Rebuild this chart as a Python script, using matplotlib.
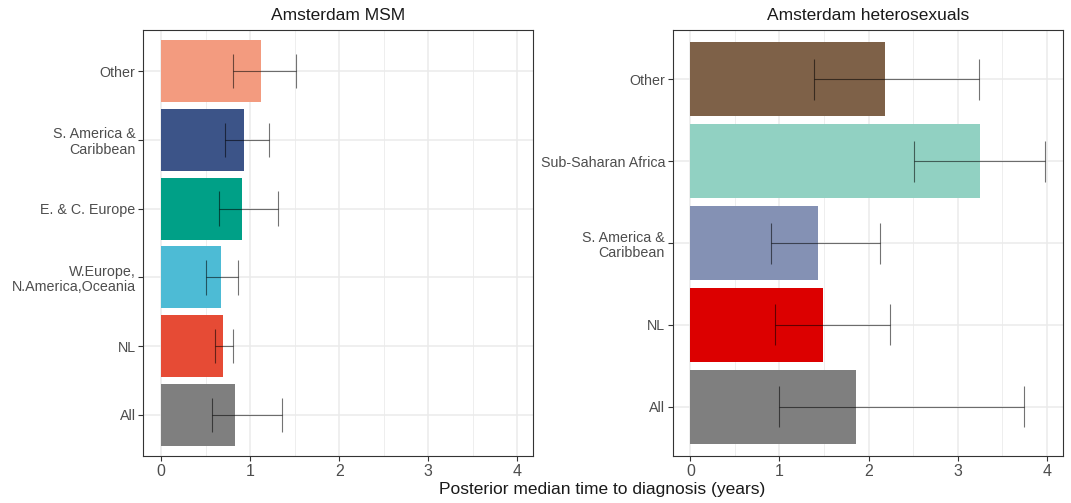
import numpy as np
import matplotlib
matplotlib.use("Agg")
import matplotlib.pyplot as plt
from matplotlib.ticker import MultipleLocator

plt.rcParams["font.family"] = ["Liberation Sans", "DejaVu Sans"]

# --- Amsterdam MSM (de abajo hacia arriba) ---
msm_grupos = ["All", "NL", "W.Europe,\nN.America,Oceania", "E. & C. Europe",
              "S. America &\nCaribbean", "Other"]
msm_mediana = [0.83, 0.70, 0.67, 0.91, 0.93, 1.12]
msm_inf = [0.57, 0.61, 0.51, 0.655, 0.72, 0.805]
msm_sup = [1.36, 0.81, 0.86, 1.31, 1.21, 1.52]
msm_colores = ["#7F7F7F", "#E64B35", "#4DBBD5", "#00A087", "#3C5488", "#F39B7F"]

# --- Amsterdam heterosexuales ---
het_grupos = ["All", "NL", "S. America &\nCaribbean", "Sub-Saharan Africa", "Other"]
het_mediana = [1.86, 1.485, 1.43, 3.25, 2.19]
het_inf = [1.00, 0.95, 0.91, 2.515, 1.39]
het_sup = [3.74, 2.245, 2.13, 3.98, 3.24]
het_colores = ["#7F7F7F", "#DC0000", "#8491B4", "#91D1C2", "#7E6148"]

paneles = [
    ("Amsterdam MSM", msm_grupos, msm_mediana, msm_inf, msm_sup, msm_colores),
    ("Amsterdam heterosexuals", het_grupos, het_mediana, het_inf, het_sup, het_colores),
]

# escala x compartida, con expansión del 5 %
x_max = max(max(msm_sup), max(het_sup))
x_lim = (-0.05 * x_max, 1.05 * x_max)

fig = plt.figure(figsize=(10.71, 5.03), dpi=100)
posiciones = [[0.1338, 0.0934, 0.3641, 0.8469], [0.6281, 0.0934, 0.3641, 0.8469]]

for pos, (titulo, grupos, med, inf, sup, colores) in zip(posiciones, paneles):
    ax = fig.add_axes(pos)
    y = np.arange(1, len(grupos) + 1)
    ax.barh(y, med, height=0.9, color=colores, zorder=2)

    # barras de error: línea horizontal + remates verticales
    ax.hlines(y, inf, sup, color="black", alpha=0.55, lw=0.8, zorder=3)
    ax.vlines(inf, y - 0.25, y + 0.25, color="black", alpha=0.55, lw=0.8, zorder=3)
    ax.vlines(sup, y - 0.25, y + 0.25, color="black", alpha=0.55, lw=0.8, zorder=3)

    ax.set_xlim(*x_lim)
    ax.set_ylim(0.4, len(grupos) + 0.6)
    ax.set_xticks([0, 1, 2, 3, 4])
    ax.xaxis.set_minor_locator(MultipleLocator(0.5))
    ax.set_yticks(y)
    ax.set_yticklabels(grupos)
    for lab in ax.get_yticklabels():
        lab.set_linespacing(1.1)

    ax.set_axisbelow(True)
    ax.grid(which="major", color="#EBEBEB", lw=1.1, zorder=0)
    ax.grid(which="minor", axis="x", color="#EBEBEB", lw=0.6, zorder=0)

    ax.tick_params(axis="x", which="major", length=3.5, width=0.8, color="#333333",
                   labelsize=11.5, labelcolor="#4D4D4D", pad=2)
    ax.tick_params(axis="y", which="major", length=3.5, width=0.8, color="#333333",
                   labelsize=10.3, labelcolor="#4D4D4D", pad=2)
    ax.tick_params(which="minor", length=0)

    for s in ax.spines.values():
        s.set_color("#333333")
        s.set_linewidth(0.8)

    ax.set_title(titulo, fontsize=12.5, color="#1A1A1A", pad=7)

fig.text(0.5626, 0.026, "Posterior median time to diagnosis (years)",
         ha="center", va="center", fontsize=12.5, color="#1A1A1A")

fig.savefig("out.png", dpi=100, facecolor="white")
